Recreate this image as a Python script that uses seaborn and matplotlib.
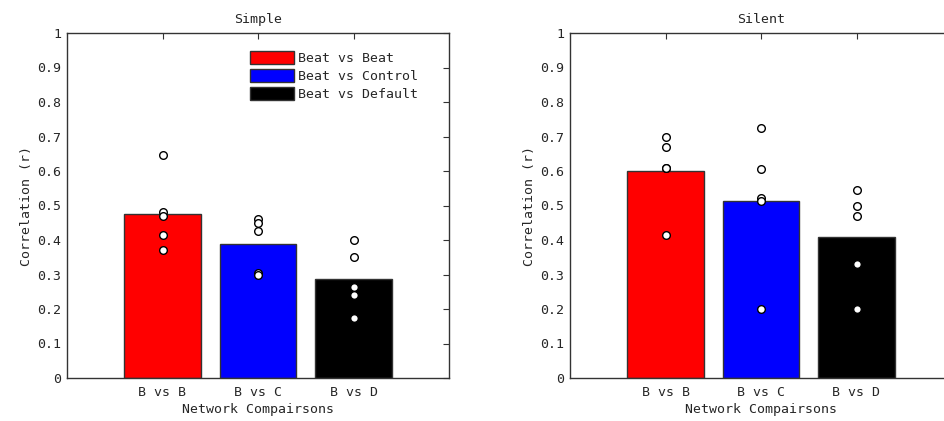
import seaborn as sns
import matplotlib.pyplot as plt
import pandas as pd
import numpy as np
from matplotlib.patches import Patch

# Datos
comparisons = ['B vs B', 'B vs C', 'B vs D']
legend_labels = ['Beat vs Beat', 'Beat vs Control', 'Beat vs Default']
bar_colors = ['#ff0000', '#0000ff', '#000000']
panels = ['Simple', 'Silent']

simple_bb = [0.645, 0.48, 0.47, 0.415, 0.37]
simple_bc = [0.46, 0.45, 0.425, 0.305, 0.30]
simple_bd = [0.40, 0.35, 0.265, 0.24, 0.175]

silent_bb = [0.70, 0.67, 0.61, 0.608, 0.415]
silent_bc = [0.725, 0.607, 0.522, 0.513, 0.20]
silent_bd = [0.545, 0.50, 0.47, 0.33, 0.20]

values = {
    'Simple': [simple_bb, simple_bc, simple_bd],
    'Silent': [silent_bb, silent_bc, silent_bd],
}

rows = []
for panel in panels:
    for comp, vals in zip(comparisons, values[panel]):
        for v in vals:
            rows.append({'panel': panel, 'comparison': comp, 'r': v})
df = pd.DataFrame(rows)

sns.set_style('white')
plt.rcParams['font.family'] = ['DejaVu Sans Mono']
plt.rcParams['font.size'] = 9.5

W, H = 944, 421
fig = plt.figure(figsize=(W / 100, H / 100), dpi=100)

ax_left = [67, 570]
ax_w, ax_top, ax_bot = 382, 33, 378

for i, panel in enumerate(panels):
    ax = fig.add_axes([ax_left[i] / W, (H - ax_bot) / H, ax_w / W, (ax_bot - ax_top) / H])
    sub = df[df['panel'] == panel]

    # barras = media de cada comparacion
    sns.barplot(data=sub, x='comparison', y='r', hue='comparison', order=comparisons,
                hue_order=comparisons, palette=bar_colors, estimator='mean', errorbar=None,
                width=0.8, edgecolor='#333333', linewidth=1, legend=False, saturation=1, ax=ax)
    # puntos individuales
    sns.stripplot(data=sub, x='comparison', y='r', order=comparisons, jitter=False,
                  color='white', edgecolor='black', linewidth=1, size=5.5, ax=ax, zorder=5)

    ax.set_xlim(-1, 3)
    ax.set_ylim(0, 1)
    yt = np.round(np.arange(0, 1.01, 0.1), 1)
    ax.set_yticks(yt)
    ax.set_yticklabels([f'{v:g}' for v in yt])
    ax.tick_params(direction='in', top=True, right=True, length=4, width=0.8,
                   color='#333333', labelsize=9.5, pad=4)
    ax.tick_params(axis='x', pad=6)
    for s in ax.spines.values():
        s.set_visible(True)
        s.set_color('#333333')
        s.set_linewidth(1)
    ax.set_title(panel, fontsize=9.5, pad=7)
    ax.set_xlabel('Network Compairsons', fontsize=9.5, labelpad=3)
    ax.set_ylabel('Correlation (r)', fontsize=9.5, labelpad=3)

    if i == 0:
        handles = [Patch(facecolor=c, edgecolor='#333333', linewidth=1) for c in bar_colors]
        ax.legend(handles, legend_labels, loc='upper left',
                  bbox_to_anchor=((250 - 67) / ax_w, (ax_bot - 51) / (ax_bot - ax_top)),
                  frameon=False, borderpad=0, borderaxespad=0, handlelength=3.3,
                  handleheight=1.1, labelspacing=0.32, handletextpad=0.35, fontsize=9.5)

fig.savefig('out.png', dpi=100)
